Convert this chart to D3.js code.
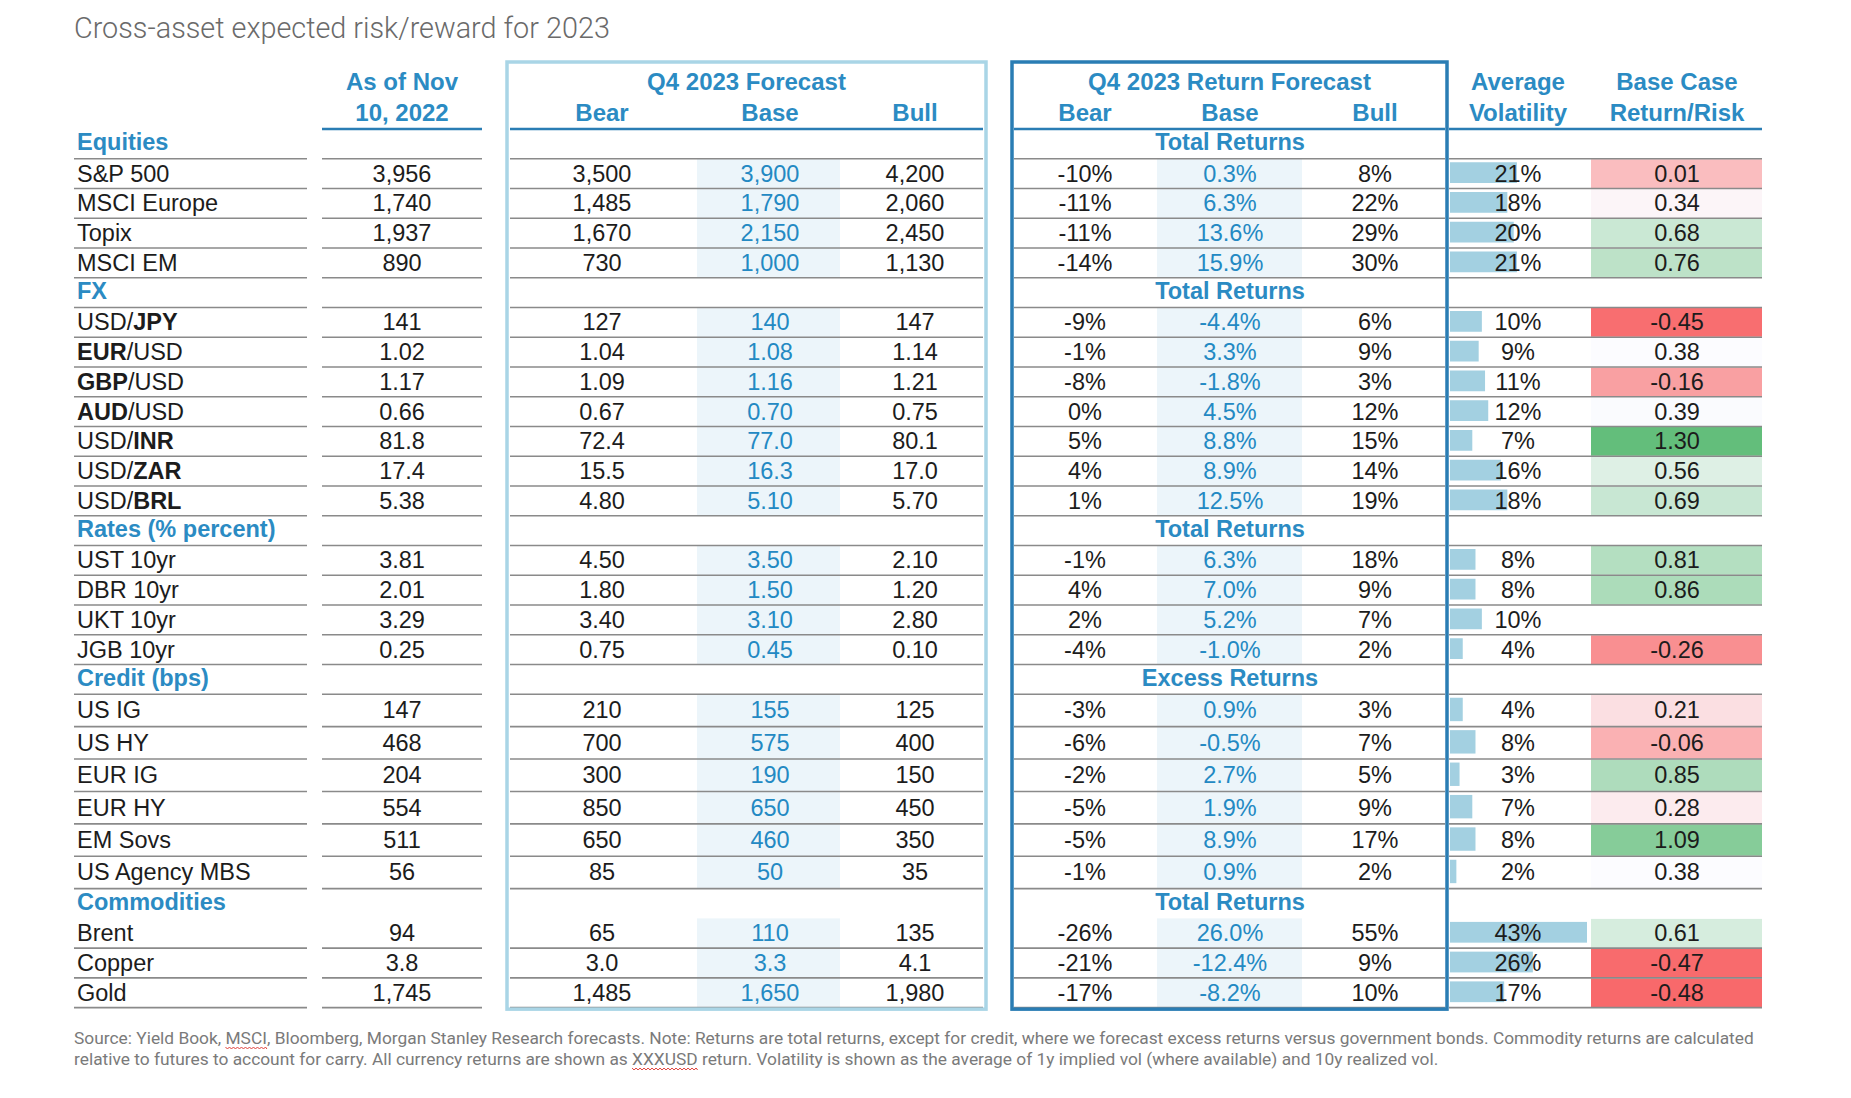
<!DOCTYPE html>
<html><head><meta charset="utf-8">
<script src="https://cdn.jsdelivr.net/npm/d3@7"></script>
<style>body{margin:0;background:#fff} svg{display:block}</style>
</head><body><svg id="c" width="1851" height="1098"></svg>
<script>
// ---------------- DATA ----------------
const title = "Cross-asset expected risk/reward for 2023";
const footnotes = [
  "Source: Yield Book, MSCI, Bloomberg, Morgan Stanley Research forecasts. Note: Returns are total returns, except for credit, where we forecast excess returns versus government bonds. Commodity returns are calculated",
  "relative to futures to account for carry. All currency returns are shown as XXXUSD return. Volatility is shown as the average of 1y implied vol (where available) and 10y realized vol."
];
const flaggedWords = ["MSCI", "XXXUSD"];
const headAsOf = ["As of Nov", "10, 2022"];
const headForecast = "Q4 2023 Forecast";
const headReturn = "Q4 2023 Return Forecast";
const scenarios = ["Bear", "Base", "Bull"];
const headVol = ["Average", "Volatility"];
const headRR = ["Base Case", "Return/Risk"];

const sections = ["Equities", "FX", "Rates (% percent)", "Credit (bps)", "Commodities"];
const sectionReturnLabel = ["Total Returns", "Total Returns", "Total Returns", "Excess Returns", "Total Returns"];

const assets = ["S&P 500", "MSCI Europe", "Topix", "MSCI EM",
  "USD/JPY", "EUR/USD", "GBP/USD", "AUD/USD", "USD/INR", "USD/ZAR", "USD/BRL",
  "UST 10yr", "DBR 10yr", "UKT 10yr", "JGB 10yr",
  "US IG", "US HY", "EUR IG", "EUR HY", "EM Sovs", "US Agency MBS",
  "Brent", "Copper", "Gold"];
const assetSection = [0,0,0,0, 1,1,1,1,1,1,1, 2,2,2,2, 3,3,3,3,3,3, 4,4,4];
const boldCurrency = [null,null,null,null, "JPY","EUR","GBP","AUD","INR","ZAR","BRL",
  null,null,null,null, null,null,null,null,null,null, null,null,null];
const decimals = [0,0,0,0, 0,2,2,2,1,1,2, 2,2,2,2, 0,0,0,0,0,0, 0,1,0];

const current  = [3956, 1740, 1937, 890, 141, 1.02, 1.17, 0.66, 81.8, 17.4, 5.38, 3.81, 2.01, 3.29, 0.25, 147, 468, 204, 554, 511, 56, 94, 3.8, 1745];
const levelBear = [3500, 1485, 1670, 730, 127, 1.04, 1.09, 0.67, 72.4, 15.5, 4.80, 4.50, 1.80, 3.40, 0.75, 210, 700, 300, 850, 650, 85, 65, 3.0, 1485];
const levelBase = [3900, 1790, 2150, 1000, 140, 1.08, 1.16, 0.70, 77.0, 16.3, 5.10, 3.50, 1.50, 3.10, 0.45, 155, 575, 190, 650, 460, 50, 110, 3.3, 1650];
const levelBull = [4200, 2060, 2450, 1130, 147, 1.14, 1.21, 0.75, 80.1, 17.0, 5.70, 2.10, 1.20, 2.80, 0.10, 125, 400, 150, 450, 350, 35, 135, 4.1, 1980];

const retBear = [-10, -11, -11, -14, -9, -1, -8, 0, 5, 4, 1, -1, 4, 2, -4, -3, -6, -2, -5, -5, -1, -26, -21, -17];
const retBase = [0.3, 6.3, 13.6, 15.9, -4.4, 3.3, -1.8, 4.5, 8.8, 8.9, 12.5, 6.3, 7.0, 5.2, -1.0, 0.9, -0.5, 2.7, 1.9, 8.9, 0.9, 26.0, -12.4, -8.2];
const retBull = [8, 22, 29, 30, 6, 9, 3, 12, 15, 14, 19, 18, 9, 7, 2, 3, 7, 5, 9, 17, 2, 55, 9, 10];
const avgVol = [21, 18, 20, 21, 10, 9, 11, 12, 7, 16, 18, 8, 8, 10, 4, 4, 8, 3, 7, 8, 2, 43, 26, 17];
const returnRisk = [0.01, 0.34, 0.68, 0.76, -0.45, 0.38, -0.16, 0.39, 1.30, 0.56, 0.69, 0.81, 0.86, null, -0.26, 0.21, -0.06, 0.85, 0.28, 1.09, 0.38, 0.61, -0.47, -0.48];

// ---------------- LAYOUT / STYLE ----------------
const W = 1851, H = 1098;
const BLUE = "#2b8bc3", BASEBLUE = "#2389c3", DARKBLUE = "#2a7db4", LIGHTBOX = "#a9d5e6";
const TXT = "#1c1c1c", GRID = "#8a8a8a";
const FONT = "'Liberation Sans', Arial, Helvetica, sans-serif";
const tableTop = 129;
const normalH = 29.75, creditH = 32.4;

const loc = d3.formatLocale({decimal: ".", thousands: ",", grouping: [3], currency: ["$", ""], minus: "-"});
const fmtLevel = (v, d) => loc.format(`,.${d}f`)(v);
const fmtPct0 = v => loc.format(".0f")(v) + "%";
const fmtPct1 = v => loc.format(".1f")(v) + "%";
const fmtRR = v => v == null ? "" : loc.format(".2f")(v);

// rows
const rows = [];
sections.forEach((s, si) => {
  rows.push({type: "header", section: si, label: s});
  assets.forEach((a, i) => { if (assetSection[i] === si) rows.push({type: "asset", section: si, i, label: a}); });
});
rows.forEach(r => r.h = (r.type === "asset" && r.section === 3) ? creditH : normalH);
const tops = [];
rows.reduce((acc, r) => { tops.push(acc); return acc + r.h; }, tableTop);
const yTop = d3.scaleOrdinal().domain(rows.map((r, k) => k)).range(tops);
rows.forEach((r, k) => { r.k = k; r.y = yTop(k); r.cy = r.y + r.h / 2; });
const tableBottom = tops[tops.length - 1] + rows[rows.length - 1].h;

// columns (x)
const col = {
  labelX: 77, labelL: 74, labelR: 307,
  asOf: 402, asOfL: 322, asOfR: 482,
  boxA: {l: 507, r: 986, top: 62}, lvl: {Bear: 602, Base: 770, Bull: 915}, lvlShade: [697, 840],
  boxB: {l: 1012, r: 1447, top: 62}, ret: {Bear: 1085, Base: 1230, Bull: 1375}, retShade: [1157, 1302],
  volL: 1450, volText: 1518, rrL: 1591, rrR: 1762, rrText: 1677
};

const svg = d3.select("#c");
svg.append("rect").attr("width", W).attr("height", H).attr("fill", "#fff");

// scales
const volScale = d3.scaleLinear().domain([0, d3.max(avgVol)]).range([0, 137]);
const rrVals = returnRisk.filter(v => v != null);
const rrColor = d3.scaleLinear()
  .domain([d3.min(rrVals), d3.median(rrVals), d3.max(rrVals)])
  .range(["#f8696b", "#fcfcff", "#63be7b"]).interpolate(d3.interpolateRgb);

const assetRows = rows.filter(r => r.type === "asset");

// base column shading
const gShade = svg.append("g");
[col.lvlShade, col.retShade].forEach(([a, b]) => {
  gShade.selectAll(null).data(assetRows).join("rect")
    .attr("x", a).attr("width", b - a).attr("y", r => r.y).attr("height", r => r.h)
    .attr("fill", "#ecf5fa");
});

// return/risk cells
svg.append("g").selectAll("rect").data(assetRows.filter(r => returnRisk[r.i] != null)).join("rect")
  .attr("x", col.rrL).attr("width", col.rrR - col.rrL)
  .attr("y", r => r.y + 0.5).attr("height", r => r.h - 1)
  .attr("fill", r => rrColor(returnRisk[r.i]));

// vol bars
svg.append("g").selectAll("rect").data(assetRows).join("rect")
  .attr("x", col.volL).attr("width", r => volScale(avgVol[r.i]))
  .attr("y", r => r.y + 3.5).attr("height", r => r.h - 9)
  .attr("fill", "#a3d0e1");

// grid lines (bottom of each row)
const segs = [[col.labelL, col.labelR], [col.asOfL, col.asOfR], [col.boxA.l + 3, col.boxA.r - 3], [col.boxB.l + 2, col.boxB.r - 2], [col.boxB.r + 2, col.rrR]];
const lineRows = rows.filter(r => !(r.type === "header" && r.section === 4));
const gGrid = svg.append("g");
segs.forEach(([a, b]) => {
  gGrid.selectAll(null).data(lineRows).join("line")
    .attr("x1", a).attr("x2", b)
    .attr("y1", r => r.y + r.h).attr("y2", r => r.y + r.h)
    .attr("stroke", GRID).attr("stroke-width", 1.6);
});

// header underlines
[[col.asOfL, col.asOfR], [col.boxA.l + 3, col.boxA.r - 3], [col.boxB.l + 2, col.boxB.r - 2], [col.boxB.r + 2, col.rrR]].forEach(([a, b]) => {
  svg.append("line").attr("x1", a).attr("x2", b).attr("y1", tableTop).attr("y2", tableTop)
    .attr("stroke", DARKBLUE).attr("stroke-width", 2.6);
});

// boxes
svg.append("rect").attr("x", col.boxA.l).attr("y", col.boxA.top)
  .attr("width", col.boxA.r - col.boxA.l).attr("height", tableBottom + 1.5 - col.boxA.top)
  .attr("fill", "none").attr("stroke", LIGHTBOX).attr("stroke-width", 3.5);
svg.append("rect").attr("x", col.boxB.l).attr("y", col.boxB.top)
  .attr("width", col.boxB.r - col.boxB.l).attr("height", tableBottom + 1.5 - col.boxB.top)
  .attr("fill", "none").attr("stroke", DARKBLUE).attr("stroke-width", 3.5);

// text helpers
const T = (x, y, s, o = {}) => svg.append("text").attr("x", x).attr("y", y).text(s)
  .attr("font-family", FONT).attr("font-size", o.size || 23.5)
  .attr("font-weight", o.bold ? "bold" : "normal")
  .attr("fill", o.fill || TXT).attr("text-anchor", o.anchor || "middle")
  .attr("dy", "0.36em");

// headers
const hb = {bold: true, fill: BLUE, size: 24};
const hy1 = 81, hy2 = 112;
T(col.asOf, hy1, headAsOf[0], hb); T(col.asOf, hy2, headAsOf[1], hb);
T((col.boxA.l + col.boxA.r) / 2, hy1, headForecast, hb);
T((col.boxB.l + col.boxB.r) / 2, hy1, headReturn, hb);
scenarios.forEach(s => { T(col.lvl[s], hy2, s, hb); T(col.ret[s], hy2, s, hb); });
T(col.volText, hy1, headVol[0], hb); T(col.volText, hy2, headVol[1], hb);
T(col.rrText, hy1, headRR[0], hb); T(col.rrText, hy2, headRR[1], hb);

// section header rows
rows.filter(r => r.type === "header").forEach(r => {
  T(col.labelX, r.cy - 2, r.label, {bold: true, fill: BLUE, anchor: "start"});
  T(col.ret.Base, r.cy - 2, sectionReturnLabel[r.section], {bold: true, fill: BLUE});
});

// asset rows
assetRows.forEach(r => {
  const i = r.i, y = r.cy - 0.5;
  const lab = T(col.labelX, y, "", {anchor: "start"});
  if (boldCurrency[i]) {
    r.label.split("/").forEach((p, j) => {
      if (j) lab.append("tspan").text("/").attr("font-weight", "normal");
      lab.append("tspan").text(p).attr("font-weight", p === boldCurrency[i] ? "bold" : "normal");
    });
  } else lab.text(r.label);
  T(col.asOf, y, fmtLevel(current[i], decimals[i]));
  T(col.lvl.Bear, y, fmtLevel(levelBear[i], decimals[i]));
  T(col.lvl.Base, y, fmtLevel(levelBase[i], decimals[i]), {fill: BASEBLUE});
  T(col.lvl.Bull, y, fmtLevel(levelBull[i], decimals[i]));
  T(col.ret.Bear, y, fmtPct0(retBear[i]));
  T(col.ret.Base, y, fmtPct1(retBase[i]), {fill: BASEBLUE});
  T(col.ret.Bull, y, fmtPct0(retBull[i]));
  T(col.volText, y, fmtPct0(avgVol[i]));
  T(col.rrText, y, fmtRR(returnRisk[i]));
});

// title (fit to measured width)
const tt = svg.append("text").attr("x", 74).attr("y", 38).text(title)
  .attr("font-family", "Roboto, 'Open Sans', sans-serif").attr("font-weight", 300)
  .attr("font-size", 28).attr("fill", "#6a6a6a");
tt.attr("font-size", 28 * 536 / tt.node().getComputedTextLength());

// footnotes
const fnY = [1044, 1065];
const fnNodes = footnotes.map((s, j) => svg.append("text").attr("x", 74).attr("y", fnY[j]).text(s)
  .attr("font-family", "Roboto, 'Open Sans', sans-serif").attr("font-size", 15).attr("fill", "#7a7a7a"));
const fs = 15 * 1681 / fnNodes[0].node().getComputedTextLength();
fnNodes.forEach(n => n.attr("font-size", fs));
// spell-check squiggles
fnNodes.forEach((n, j) => {
  flaggedWords.forEach(w => {
    const re = new RegExp("\\b" + w + "\\b");
    const m = footnotes[j].match(re);
    if (!m) return;
    const node = n.node();
    const x0 = node.getStartPositionOfChar(m.index).x;
    const x1 = node.getEndPositionOfChar(m.index + w.length - 1).x;
    const yb = fnY[j] + 3;
    let d = `M${x0},${yb}`;
    for (let x = x0, k = 0; x < x1; x += 2, k++) d += `L${Math.min(x + 2, x1)},${yb + (k % 2 ? 0 : 2)}`;
    svg.append("path").attr("d", d).attr("fill", "none").attr("stroke", "#e0403a").attr("stroke-width", 1);
  });
});
</script></body></html>
